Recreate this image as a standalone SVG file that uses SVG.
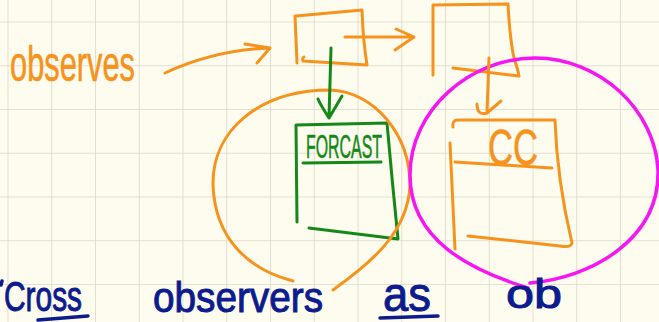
<svg xmlns="http://www.w3.org/2000/svg" width="659" height="322" viewBox="0 0 659 322">
  <defs>
    <pattern id="grid" x="7.5" y="21.5" width="43.75" height="43.75" patternUnits="userSpaceOnUse">
      <path d="M0,0 H43.75 M0,0 V43.75" fill="none" stroke="#ddd8c6" stroke-width="1.6"/>
    </pattern>
    <style>
      .ink { fill: none; stroke-linecap: round; stroke-linejoin: round; }
      .orange { stroke: #f7921c; stroke-width: 3; }
      .green { stroke: #14891a; stroke-width: 3; }
      .magenta { stroke: #f516f2; stroke-width: 3.5; }
      .blue { stroke: #0c1c8e; stroke-width: 3.5; }
      .hand { font-family: "Liberation Sans", "DejaVu Sans", sans-serif; }
      .t-orange { fill: #f7921c; stroke: #f7921c; stroke-width: 0.6; }
      .t-green { fill: #14891a; stroke: #14891a; stroke-width: 0.6; }
      .t-blue { fill: #0c1c8e; stroke: #0c1c8e; stroke-width: 1; }
    </style>
  </defs>

  <!-- paper -->
  <rect width="659" height="322" fill="#fefcef"/>
  <rect width="659" height="322" fill="url(#grid)"/>

  <!-- label on the left -->
  <g id="label-observes">
    <text class="hand t-orange" x="10" y="81" font-size="50" textLength="125" lengthAdjust="spacingAndGlyphs">observes</text>
  </g>

  <!-- first box -->
  <g id="box1">
    <path class="ink orange" d="M296,16 L362,10 Q363,40 367,65 L303,61 Q302,58 304,57 M295,16 L297,63"/>
  </g>

  <!-- second box -->
  <g id="box2">
    <path class="ink orange" d="M433,75 L433,5 L508,4 Q510,40 514,58 Q518,70 519,76 L453,68"/>
  </g>

  <!-- forecast box -->
  <g id="forecast">
    <path class="ink green" d="M296,125 L387,123 Q392,180 398,239 L309,228 M296,125 L297,222"/>
    <text class="hand t-green" x="306" y="158" font-size="34" textLength="76" lengthAdjust="spacingAndGlyphs">FORCAST</text>
    <path class="ink green" d="M303,163 L381,162"/>
  </g>

  <!-- cc box -->
  <g id="cc">
    <path class="ink orange" d="M453,127 Q452,120 458,120 L555,120 Q557,180 572,243 Q571,248 560,246 L468,236"/>
    <path class="ink orange" d="M450,143 L455,249"/>
    <path class="ink orange" d="M455,162 L552,168"/>
    <text class="hand t-orange" x="488" y="165" font-size="50" textLength="50" lengthAdjust="spacingAndGlyphs">CC</text>
  </g>

  <!-- group circles -->
  <g id="group-observers">
    <path class="ink orange" d="M293,281 C250,270 215,240 213,185 C212,130 260,90 330,90 C375,92 410,135 410,185 C408,232 372,262 333,290"/>
  </g>
  <g id="group-ob">
    <path class="ink magenta" d="M528,288 C470,270 410,240 410,175 C410,110 470,58 535,58 C600,58 655,110 658,170 C660,240 590,278 530,283"/>
  </g>

  <!-- connectors -->
  <g id="connectors">
    <path class="ink orange" d="M165,73 Q215,50 270,48 M245,44 L270,48 L257,63"/>
    <path class="ink orange" d="M345,37 L414,37 M396,29 L414,37 L395,50"/>
    <path class="ink green" d="M331,48 L329,117 M318,99 Q320,104 329,118 L342,96"/>
    <path class="ink orange" d="M489,58 L487,112 M477,104 Q477,116 487,113 L501,101"/>
  </g>

  <!-- bottom notes -->
  <g id="note-cross">
    <path class="ink blue" d="M2,281 L1,285"/>
    <text class="hand t-blue" x="4" y="311" font-size="43" textLength="78" lengthAdjust="spacingAndGlyphs">Cross</text>
    <path class="ink blue" d="M38,320 L88,316"/>
  </g>
  <g id="note-observers">
    <text class="hand t-blue" x="153" y="312" font-size="42" textLength="170" lengthAdjust="spacingAndGlyphs">observers</text>
  </g>
  <g id="note-as">
    <text class="hand t-blue" x="383" y="311" font-size="48" textLength="48" lengthAdjust="spacingAndGlyphs">as</text>
    <path class="ink blue" d="M380,318 L438,316"/>
  </g>
  <g id="note-ob">
    <text class="hand t-blue" x="506" y="308" font-size="40" textLength="56" lengthAdjust="spacingAndGlyphs">ob</text>
  </g>
</svg>
